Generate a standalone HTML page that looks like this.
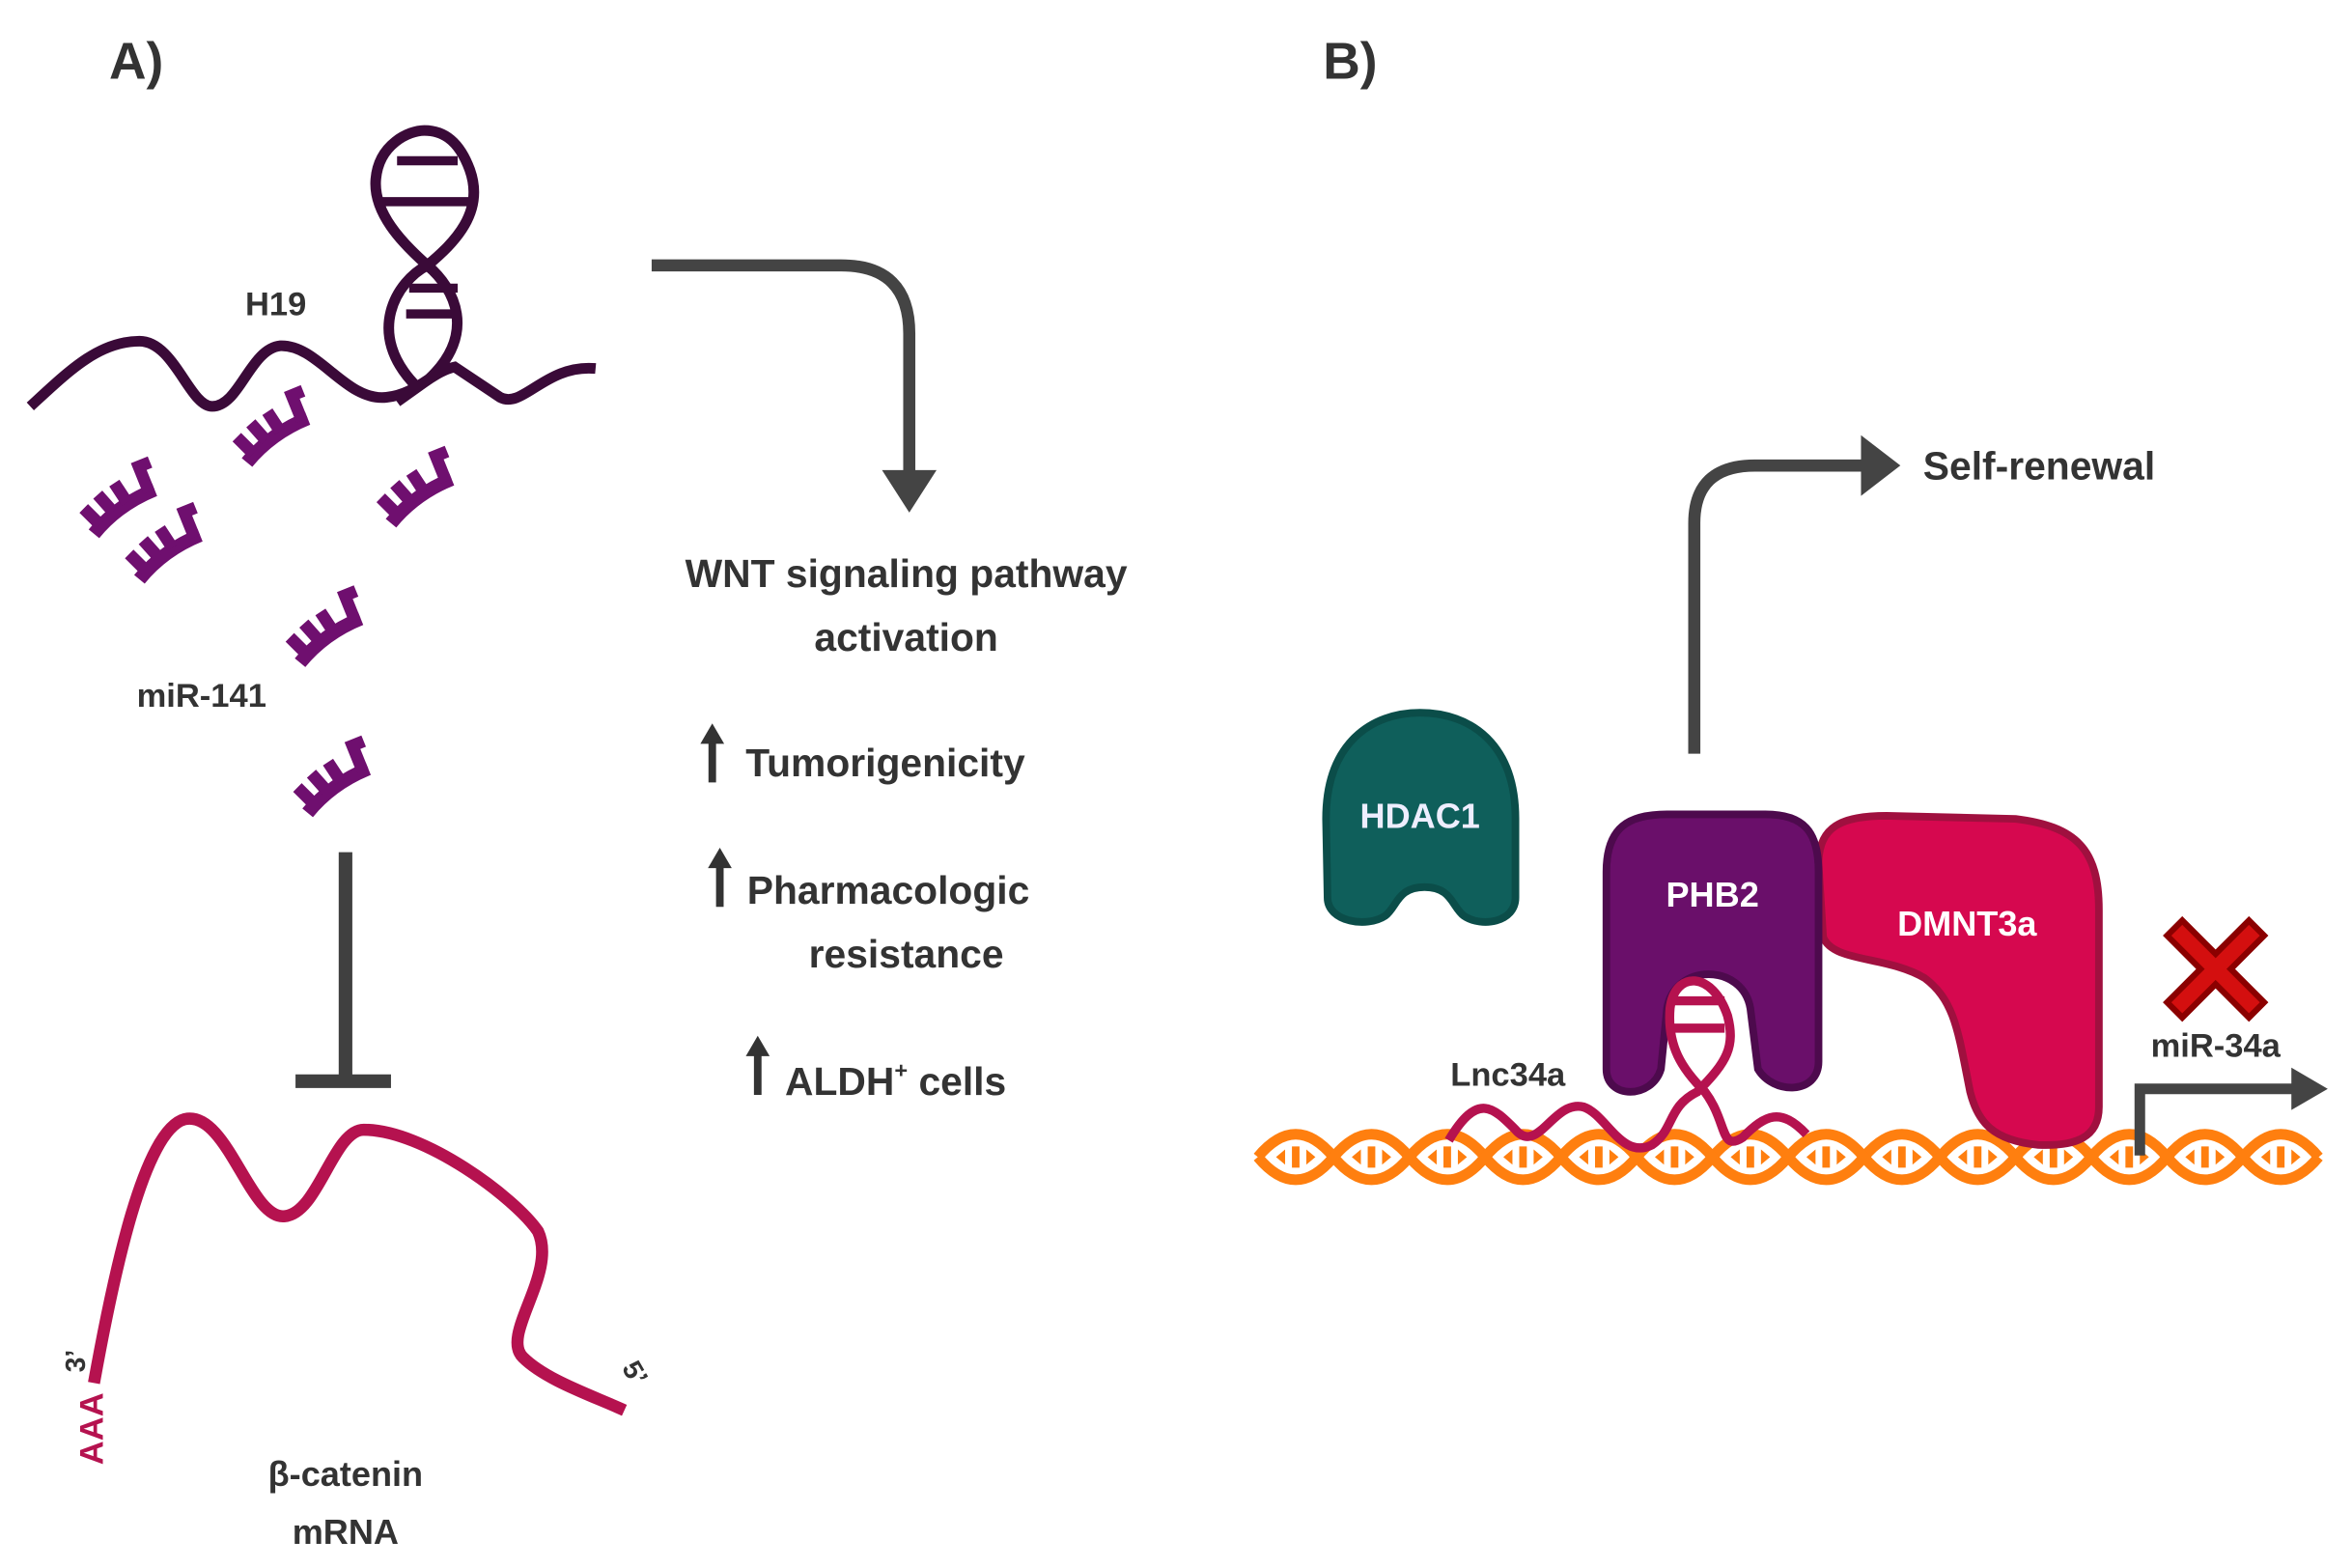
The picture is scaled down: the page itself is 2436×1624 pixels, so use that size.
<!DOCTYPE html>
<html><head><style>html,body{margin:0;padding:0;background:#fff}svg{display:block}</style></head><body>
<svg width="2436" height="1624" viewBox="0 0 1552 1034" preserveAspectRatio="none" xmlns="http://www.w3.org/2000/svg" font-family="'Liberation Sans', sans-serif" font-weight="bold">
<defs>
<g id="mir">
<path d="M0,0 Q22,-12 48,-12" fill="none" stroke="#6f0f6f" stroke-width="9"/>
<path d="M6,-4 l-6,-14 M17,-9 l-5,-14 M28,-11 l-3,-15 M44,-12 l0,-18 l8,0" fill="none" stroke="#6f0f6f" stroke-width="8"/>
</g>
</defs>
<text x="72" y="52" font-size="34" fill="#333">A)</text>
<text x="873" y="52" font-size="34" fill="#333">B)</text>
<!-- H19 -->
<path d="M20,268 C45,245 65,225 92,225 C115,225 125,268 140,268 C158,268 165,230 185,228 C210,227 228,265 255,262 C275,260 285,245 300,242 L330,262 C345,270 360,240 393,243" fill="none" stroke="#3a0a38" stroke-width="7"/>
<path d="M275,255 C240,220 262,185 282,175 C300,160 320,140 310,112 C302,90 290,86 280,86 C270,86 250,95 248,118 C246,140 265,160 282,175 C300,190 315,220 283,250 L262,265" fill="none" stroke="#3a0a38" stroke-width="7"/>
<path d="M252,133 L310,133 M262,106 L302,106 M268,207 L300,207 M270,190 L302,190" stroke="#3a0a38" stroke-width="6"/>
<text x="182" y="208" font-size="22" fill="#333" text-anchor="middle">H19</text>
<use href="#mir" transform="translate(163,305) rotate(-22)"/>
<use href="#mir" transform="translate(62,352) rotate(-22)"/>
<use href="#mir" transform="translate(92,382) rotate(-22)"/>
<use href="#mir" transform="translate(258,345) rotate(-22)"/>
<use href="#mir" transform="translate(198,437) rotate(-22)"/>
<use href="#mir" transform="translate(203,536) rotate(-22)"/>
<text x="133" y="466" font-size="22" fill="#333" text-anchor="middle">miR-141</text>
<path d="M228,562 L228,712 M195,713 L258,713" stroke="#404040" stroke-width="9"/>
<path d="M62,912 C75,840 95,745 122,738 C150,732 165,805 188,802 C210,800 220,745 240,745 C280,745 340,790 355,812 C368,840 330,880 345,895 C360,910 390,920 412,930" fill="none" stroke="#b5124f" stroke-width="8"/>
<text transform="translate(68,966) rotate(-90)" font-size="22" fill="#b5124f">AAA</text>
<text transform="translate(56,905) rotate(-90)" font-size="18" fill="#333">3’</text>
<text transform="translate(410,902) rotate(60)" font-size="18" fill="#333">5’</text>
<text x="228" y="980" font-size="23" fill="#333" text-anchor="middle">β-catenin</text>
<text x="228" y="1018" font-size="23" fill="#333" text-anchor="middle">mRNA</text>
<path d="M430,175 L555,175 Q600,175 600,220 L600,318" fill="none" stroke="#444" stroke-width="8"/>
<path d="M582,310 L618,310 L600,338 Z" fill="#444"/>
<g font-size="26" fill="#333">
<text x="598" y="387" text-anchor="middle">WNT signaling pathway</text>
<text x="598" y="429" text-anchor="middle">activation</text>
<text x="492" y="512">Tumorigenicity</text>
<text x="493" y="596">Pharmacologic</text>
<text x="598" y="638" text-anchor="middle">resistance</text>
<text x="518" y="722">ALDH<tspan font-size="15" dy="-11">+</tspan><tspan dy="11"> cells</tspan></text>
</g>
<g fill="#333" stroke="#333">
<path d="M470,516 L470,486" stroke-width="5"/><path d="M463,490 L470,478 L477,490Z"/>
<path d="M475,598 L475,568" stroke-width="5"/><path d="M468,572 L475,560 L482,572Z"/>
<path d="M500,722 L500,692" stroke-width="5"/><path d="M493,696 L500,684 L507,696Z"/>
</g>
<!-- B -->
<path d="M1118,497 L1118,345 Q1118,307 1158,307 L1232,307" fill="none" stroke="#444" stroke-width="8"/>
<path d="M1228,287 L1254,307 L1228,327 Z" fill="#444"/>
<text x="1269" y="316" font-size="26" fill="#333">Self-renewal</text>
<path d="M875,540 C875,490 905,470 937,470 C970,470 1000,490 1000,540 L1000,592 C1000,608 978,612 966,604 C958,598 958,585 940,585 C922,585 922,598 914,604 C902,612 876,608 876,592 Z" fill="#0f5f5b" stroke="#0b4d49" stroke-width="5"/>
<text x="937" y="546" font-size="23" fill="#eef" text-anchor="middle">HDAC1</text>
<!-- orange DNA -->
<g fill="none" stroke="#ff7f0f" stroke-width="7">
<path d="M830,763 q25,-30 50,0 t50,0 t50,0 t50,0 t50,0 t50,0 t50,0 t50,0 t50,0 t50,0 t50,0 t50,0 t50,0 t50,0"/>
<path d="M830,763 q25,30 50,0 t50,0 t50,0 t50,0 t50,0 t50,0 t50,0 t50,0 t50,0 t50,0 t50,0 t50,0 t50,0 t50,0"/>
<path d="M855,756 v14 M905,756 v14 M955,756 v14 M1005,756 v14 M1055,756 v14 M1105,756 v14 M1155,756 v14 M1205,756 v14 M1255,756 v14 M1305,756 v14 M1355,756 v14 M1405,756 v14 M1455,756 v14 M1505,756 v14" stroke-width="5"/>
<path d="M842,763 l6,-5 v10 z M868,763 l-6,-5 v10 z M892,763 l6,-5 v10 z M918,763 l-6,-5 v10 z M942,763 l6,-5 v10 z M968,763 l-6,-5 v10 z M992,763 l6,-5 v10 z M1018,763 l-6,-5 v10 z M1042,763 l6,-5 v10 z M1068,763 l-6,-5 v10 z M1092,763 l6,-5 v10 z M1118,763 l-6,-5 v10 z M1142,763 l6,-5 v10 z M1168,763 l-6,-5 v10 z M1192,763 l6,-5 v10 z M1218,763 l-6,-5 v10 z M1242,763 l6,-5 v10 z M1268,763 l-6,-5 v10 z M1292,763 l6,-5 v10 z M1318,763 l-6,-5 v10 z M1342,763 l6,-5 v10 z M1368,763 l-6,-5 v10 z M1392,763 l6,-5 v10 z M1418,763 l-6,-5 v10 z M1442,763 l6,-5 v10 z M1468,763 l-6,-5 v10 z M1492,763 l6,-5 v10 z M1518,763 l-6,-5 v10 z" fill="#ff7f0f" stroke="none"/>
</g>
<!-- DMNT3a -->
<path d="M1200,570 C1200,545 1215,538 1245,538 L1330,540 C1370,545 1385,560 1385,600 L1385,730 C1385,750 1370,756 1345,755 C1315,752 1305,740 1300,720 C1292,680 1290,660 1270,645 C1245,630 1210,635 1203,618 Z" fill="#d6084f" stroke="#a0103f" stroke-width="5"/>
<text x="1298" y="617" font-size="23" fill="#fff" text-anchor="middle">DMNT3a</text>
<!-- PHB2 -->
<path d="M1060,575 C1060,545 1075,537 1100,537 L1165,537 C1190,537 1200,548 1200,575 L1200,700 C1200,722 1170,722 1160,705 L1155,665 C1150,635 1105,635 1100,665 L1096,705 C1090,725 1060,725 1060,705 Z" fill="#6a0f6a" stroke="#4d0a4d" stroke-width="5"/>
<text x="1130" y="598" font-size="23" fill="#fff" text-anchor="middle">PHB2</text>
<!-- Lnc34a -->
<g fill="none" stroke="#b5124f" stroke-width="6">
<path d="M956,752 C975,720 985,730 1000,745 C1015,762 1025,725 1045,730 C1060,735 1070,765 1090,755 C1105,745 1100,730 1120,720 C1140,700 1145,690 1140,670 C1130,640 1105,640 1102,665 C1100,690 1110,705 1125,720 C1140,740 1135,760 1150,750 C1165,735 1175,730 1192,748"/>
<path d="M1103,660 L1138,660 M1104,678 L1138,678"/>
</g>
<text x="995" y="716" font-size="22" fill="#333" text-anchor="middle">Lnc34a</text>
<g transform="translate(1462,637)">
<path d="M-22,-30 L0,-8 L22,-30 L32,-20 L10,2 L32,24 L22,34 L0,12 L-22,34 L-32,24 L-10,2 L-32,-20 Z" fill="#d40f0f" stroke="#8b0000" stroke-width="4"/>
</g>
<text x="1462" y="697" font-size="22" fill="#333" text-anchor="middle">miR-34a</text>
<path d="M1412,762 L1412,718 L1516,718" fill="none" stroke="#444" stroke-width="7"/>
<path d="M1512,704 L1536,718 L1512,732 Z" fill="#444"/>
</svg>
</body></html>
